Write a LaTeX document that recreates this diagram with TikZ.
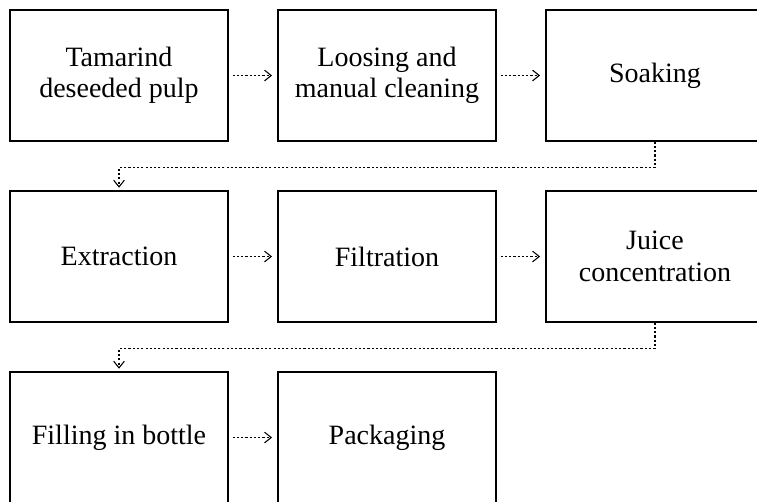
\documentclass[tikz,border=0pt]{standalone}
\usepackage{fontspec}
\setmainfont{Liberation Serif}
\usetikzlibrary{arrows,arrows.meta,positioning}

\begin{document}
\begin{tikzpicture}[x=0.75pt,y=-0.75pt,
  stepbox/.style={draw, line width=0.9pt, minimum width=163.5pt, minimum height=98.25pt,
    align=center, font=\fontsize{21}{23.5}\selectfont, inner sep=0pt},
  flow/.style={dash pattern=on 1.6pt off 1.6pt, line width=0.8pt,
    -{Straight Barb[length=5pt,width=8pt,line width=0.8pt]}}]

  \useasboundingbox (0,0) rectangle (757,501);

  % first row
  \node [stepbox] (pulp)  at (119,75.5) {Tamarind\\deseeded pulp};
  \node [stepbox] (clean) at (387,75.5) {Loosing and\\manual cleaning};
  \node [stepbox] (soak)  at (655,75.5) {Soaking};

  % second row
  \node [stepbox] (extr)  at (119,256.5) {Extraction};
  \node [stepbox] (filt)  at (387,256.5) {Filtration};
  \node [stepbox] (conc)  at (655,256.5) {Juice\\concentration};

  % third row
  \node [stepbox] (fill)  at (119,437.5) {Filling in bottle};
  \node [stepbox] (pack)  at (387,437.5) {Packaging};

  \draw [flow] ([xshift=3pt]pulp.east) -- ([xshift=-4pt]clean.west);
  \draw [flow] ([xshift=3pt]clean.east) -- ([xshift=-4pt]soak.west);
  \draw [flow] ([xshift=3pt]extr.east) -- ([xshift=-4pt]filt.west);
  \draw [flow] ([xshift=3pt]filt.east) -- ([xshift=-4pt]conc.west);
  \draw [flow] ([xshift=3pt]fill.east) -- ([xshift=-4pt]pack.west);

  \draw [flow] (soak.south) -- ++(0,26) -| ([yshift=2pt]extr.north);
  \draw [flow] (conc.south) -- ++(0,26) -| ([yshift=2pt]fill.north);

\end{tikzpicture}
\end{document}
